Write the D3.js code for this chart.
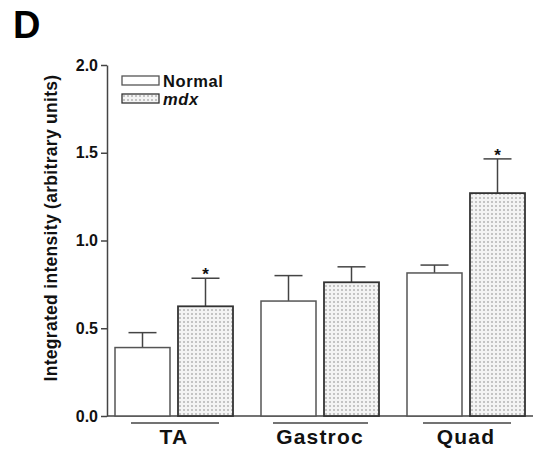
<!DOCTYPE html>
<html>
<head>
<meta charset="utf-8">
<script src="https://cdn.jsdelivr.net/npm/d3@7"></script>
<style>
  body { margin: 0; background: #fff; }
  svg { display: block; font-family: "Liberation Sans", Arial, sans-serif; }
</style>
</head>
<body>
<svg id="chart" width="542" height="455"></svg>
<script>
(function () {
    'use strict';

    var categories = ["TA", "Gastroc", "Quad"];
    var seriesNames = ["Normal", "mdx"];
    var normalValues = [0.39, 0.655, 0.815];
    var normalErr = [0.085, 0.145, 0.045];
    var mdxValues = [0.625, 0.762, 1.27];
    var mdxErr = [0.16, 0.088, 0.195];
    var significant = [false, true, false, false, false, true]; // normal/mdx per group
    var yTicks = [0, 0.5, 1.0, 1.5, 2.0];

    var svg = d3.select("#chart");

    // dotted fill for mdx bars
    var defs = svg.append("defs");
    var pat = defs.append("pattern")
        .attr("id", "dots")
        .attr("patternUnits", "userSpaceOnUse")
        .attr("width", 4)
        .attr("height", 4);
    pat.append("rect").attr("width", 4).attr("height", 4).attr("fill", "#f4f4f4");
    pat.append("circle").attr("cx", 2).attr("cy", 2).attr("r", 0.8).attr("fill", "#888");

    var y = d3.scaleLinear().domain([0, 2]).range([416, 65]);
    var x = d3.scaleBand().domain(categories).range([115, 525]).paddingInner(28 / 146);
    var xs = d3.scaleBand().domain(seriesNames).range([0, x.bandwidth()]).paddingInner(8 / 63);

    var data = [];
    categories.forEach(function (c, i) {
        data.push({cat: c, s: "Normal", v: normalValues[i], e: normalErr[i], sig: significant[i * 2]});
        data.push({cat: c, s: "mdx", v: mdxValues[i], e: mdxErr[i], sig: significant[i * 2 + 1]});
    });

    // y axis
    var yAxis = d3.axisLeft(y).tickValues(yTicks).tickSize(6).tickSizeOuter(0)
        .tickFormat(d3.format(".1f"));
    var gy = svg.append("g").attr("transform", "translate(107,0)").call(yAxis);
    gy.attr("font-family", null);
    gy.select(".domain").attr("stroke", "#444").attr("stroke-width", 1.5);
    gy.selectAll(".tick line").attr("stroke", "#444").attr("stroke-width", 1.5);
    gy.selectAll(".tick text")
        .attr("x", -9)
        .attr("font-size", 16)
        .attr("font-weight", "bold")
        .attr("fill", "#111");

    // baseline
    svg.append("line")
        .attr("x1", 107).attr("x2", 533)
        .attr("y1", y(0)).attr("y2", y(0))
        .attr("stroke", "#444").attr("stroke-width", 1.5);

    // bars
    var gBars = svg.selectAll("g.bar").data(data).enter().append("g")
        .attr("class", "bar")
        .attr("transform", function (d) { return "translate(" + (x(d.cat) + xs(d.s)) + ",0)"; });

    // error bars (drawn first, bar covers lower part)
    var cap = 28;
    gBars.append("line")
        .attr("x1", xs.bandwidth() / 2).attr("x2", xs.bandwidth() / 2)
        .attr("y1", function (d) { return y(d.v); })
        .attr("y2", function (d) { return y(d.v + d.e); })
        .attr("stroke", "#444").attr("stroke-width", 1.5);
    gBars.append("line")
        .attr("x1", xs.bandwidth() / 2 - cap / 2).attr("x2", xs.bandwidth() / 2 + cap / 2)
        .attr("y1", function (d) { return y(d.v + d.e); })
        .attr("y2", function (d) { return y(d.v + d.e); })
        .attr("stroke", "#444").attr("stroke-width", 1.5);

    gBars.append("rect")
        .attr("x", 0)
        .attr("y", function (d) { return y(d.v); })
        .attr("width", xs.bandwidth())
        .attr("height", function (d) { return y(0) - y(d.v); })
        .attr("fill", function (d) { return d.s === "mdx" ? "url(#dots)" : "#fff"; })
        .attr("stroke", function (d) { return d.s === "mdx" ? "#333" : "#555"; })
        .attr("stroke-width", function (d) { return d.s === "mdx" ? 1.8 : 1.5; });

    gBars.filter(function (d) { return d.sig; }).append("text")
        .attr("x", xs.bandwidth() / 2)
        .attr("y", function (d) { return y(d.v + d.e) + 2; })
        .attr("text-anchor", "middle")
        .attr("font-size", 17)
        .attr("font-weight", "bold")
        .attr("fill", "#111")
        .text("*");

    // group labels with lines
    var gLab = svg.selectAll("g.lab").data(categories).enter().append("g")
        .attr("class", "lab")
        .attr("transform", function (d) { return "translate(" + (x(d) + x.bandwidth() / 2) + ",0)"; });
    gLab.append("line")
        .attr("x1", function (d) { return d === "Gastroc" ? -47 : -43; })
        .attr("x2", function (d) { return d === "Gastroc" ? 48 : 45; })
        .attr("y1", 423).attr("y2", 423)
        .attr("stroke", "#444").attr("stroke-width", 1.5);
    gLab.append("text")
        .attr("y", 444)
        .attr("text-anchor", "middle")
        .attr("font-size", 21)
        .attr("font-weight", "bold")
        .attr("letter-spacing", 1.2)
        .attr("fill", "#111")
        .text(function (d) { return d; });

    // y title
    svg.append("text")
        .attr("transform", "translate(57,228) rotate(-90)")
        .attr("text-anchor", "middle")
        .attr("font-size", 17.5)
        .attr("font-weight", "bold")
        .attr("letter-spacing", 0.3)
        .attr("fill", "#111")
        .text("Integrated intensity (arbitrary units)");

    // panel letter
    svg.append("text")
        .attr("x", 13).attr("y", 38)
        .attr("font-size", 38)
        .attr("font-weight", "bold")
        .attr("fill", "#000")
        .text("D");

    // legend
    var legend = svg.selectAll("g.leg").data(seriesNames).enter().append("g")
        .attr("class", "leg")
        .attr("transform", function (d, i) { return "translate(122," + (76 + i * 18) + ")"; });
    legend.append("rect")
        .attr("width", 37).attr("height", 9)
        .attr("fill", function (d) { return d === "mdx" ? "url(#dots)" : "#fff"; })
        .attr("stroke", function (d) { return d === "mdx" ? "#333" : "#555"; })
        .attr("stroke-width", 1.3);
    legend.append("text")
        .attr("x", 41).attr("y", 11)
        .attr("font-size", 16.5)
        .attr("font-weight", "bold")
        .attr("font-style", function (d) { return d === "mdx" ? "italic" : "normal"; })
        .attr("letter-spacing", 0.6)
        .attr("fill", "#111")
        .text(function (d) { return d; });
})();
</script>
</body>
</html>
